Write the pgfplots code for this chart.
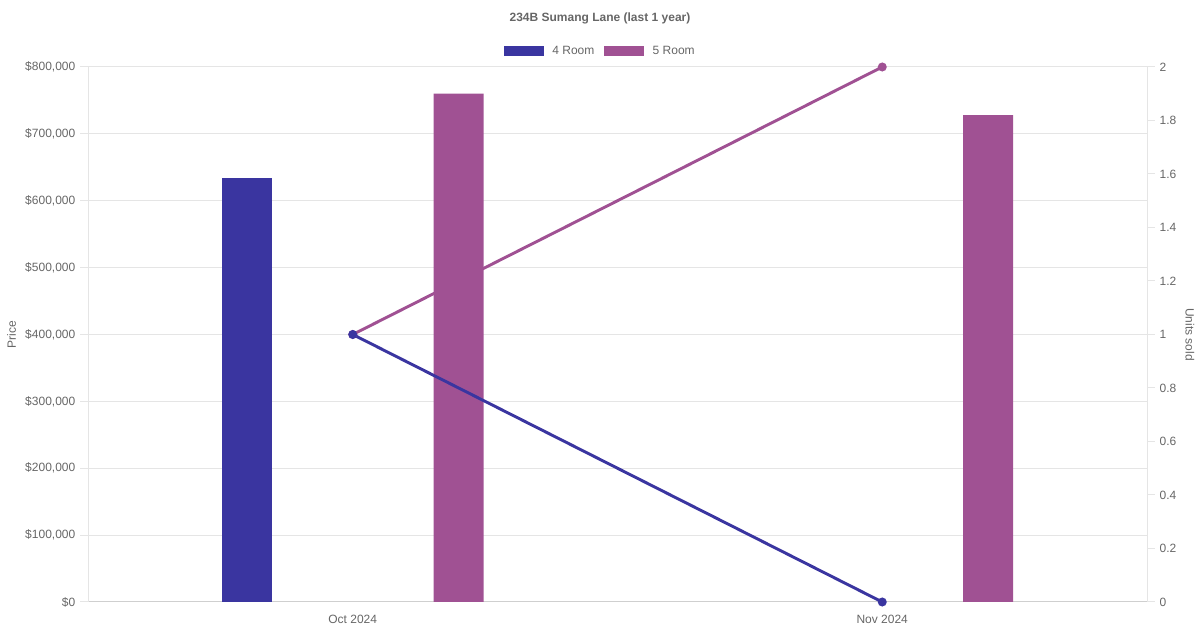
\documentclass[border=0pt]{standalone}
\usepackage{pgfplots}
\pgfplotsset{compat=1.18}
\usepackage{fontspec}
\setmainfont{Liberation Sans}
\definecolor{roomfour}{RGB}{58,53,160}
\definecolor{roomfive}{RGB}{160,81,147}
\definecolor{txt}{HTML}{666666}
\definecolor{gridc}{HTML}{E5E5E5}
\definecolor{axisc}{HTML}{CFCFCF}
\pgfplotsset{
  base/.style={
    scale only axis, width=794.25pt, height=401.25pt,
    at={(66pt,21pt)}, anchor=south west,
    xmin=-0.5, xmax=1.5,
    tick label style={font=\fontsize{9}{11}\selectfont, text=txt},
    label style={font=\fontsize{9}{11}\selectfont, text=txt},
    /pgf/number format/assume math mode=true,
    major tick length=6pt, tick align=outside,
  },
  legbox/.style={legend image code/.code={\fill[##1] (0pt,-3.75pt) rectangle (30pt,3.75pt);}},
}
\begin{document}
\begin{tikzpicture}[x=0.75pt,y=0.75pt]
\path[use as bounding box] (0,0) rectangle (1200,630);
\node[font=\fontsize{9}{11}\selectfont\bfseries, text=txt] at (600,611.5) {234B Sumang Lane (last 1 year)};

\begin{axis}[base,
  axis x line*=bottom, axis y line*=left,
  axis line style={-, draw=gridc, line width=0.75pt},
  x axis line style={draw=axisc},
  ymin=0, ymax=800000, ytick distance=100000,
  scaled y ticks=false,
  yticklabel={\$\pgfmathprintnumber[fixed, precision=0, 1000 sep={,}]{\tick}},
  ytick style={draw=gridc, line width=0.75pt},
  xtick={0,1}, xticklabels={Oct 2024, Nov 2024},
  xtick style={draw=none},
  ymajorgrids, grid style={draw=gridc, line width=0.75pt},
  ylabel={Price},
  legend style={at={(0.484,1.0299)}, anchor=center, draw=none, fill=none,
    font=\fontsize{9}{11}\selectfont, text=txt, inner sep=0pt,
    /tikz/every odd column/.append style={column sep=4.5pt},
    /tikz/every even column/.append style={column sep=5.25pt}},
  legend columns=-1,
]
\addplot[ybar, bar width=37.5pt, bar shift=0pt, fill=roomfour, draw=none, legbox]
  coordinates {(-0.2,634000)};
\addlegendentry{4 Room}
\addplot[ybar, bar width=37.5pt, bar shift=0pt, fill=roomfive, draw=none, legbox]
  coordinates {(0.2,760000) (1.2,728000)};
\addlegendentry{5 Room}
\end{axis}

\begin{axis}[base,
  axis y line*=right, axis x line=none,
  axis line style={-, draw=gridc, line width=0.75pt},
  ymin=0, ymax=2, ytick distance=0.2,
  yticklabel={\pgfmathprintnumber{\tick}},
  ytick style={draw=gridc, line width=0.75pt},
  ylabel={Units sold}, ylabel style={rotate=180},
  clip=false,
]
\addplot[roomfive, line width=2.2pt, mark=*, mark size=2.2pt, mark options={solid, fill=roomfive}]
  coordinates {(0,1) (1,2)};
\addplot[roomfour, line width=2.2pt, mark=*, mark size=2.2pt, mark options={solid, fill=roomfour}]
  coordinates {(0,1) (1,0)};
\end{axis}
\end{tikzpicture}
\end{document}
